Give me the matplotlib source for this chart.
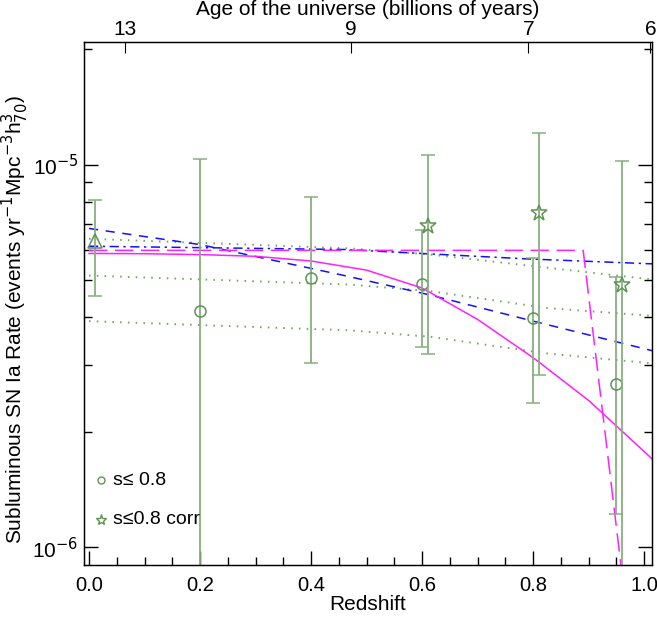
import matplotlib
matplotlib.use('Agg')
import matplotlib.pyplot as plt
from matplotlib.ticker import FixedLocator, NullFormatter

plt.rcParams['font.family'] = ['Liberation Sans', 'DejaVu Sans']

# data points (s <= 0.8)
z_s = [0.2, 0.4, 0.6, 0.8, 0.95]
rate_s = [4.15e-6, 5.07e-6, 4.89e-6, 3.97e-6, 2.67e-6]
hi_s = [1.035e-5, 8.24e-6, 6.73e-6, 5.69e-6, 5.08e-6]
lo_s = [1e-8, 3.03e-6, 3.34e-6, 2.39e-6, 1.22e-6]

# corrected points (s <= 0.8 corr)
z_c = [0.61, 0.81, 0.96]
rate_c = [6.93e-6, 7.48e-6, 4.85e-6]
hi_c = [1.06e-5, 1.21e-5, 1.02e-5]
lo_c = [3.21e-6, 2.82e-6, 1e-8]

# local point (triangle)
z_t = [0.01]
rate_t = [6.3e-6]
hi_t = [8.07e-6]
lo_t = [4.53e-6]

# fit and +-1 sigma (green dotted)
z_fit = [0.0, 0.47, 0.615, 0.825, 1.02]
fit_hi = [6.4e-6, 6.04e-6, 5.82e-6, 5.38e-6, 5.0e-6]
fit_mid = [5.13e-6, 4.86e-6, 4.67e-6, 4.22e-6, 4.02e-6]
fit_lo = [3.90e-6, 3.69e-6, 3.55e-6, 3.21e-6, 3.02e-6]

# blue models
z_b = [0.0, 0.2, 0.46, 0.61, 0.8, 1.02]
blue_dash = [6.81e-6, 6.18e-6, 5.13e-6, 4.58e-6, 3.90e-6, 3.25e-6]
z_bd = [0.0, 0.46, 0.79, 1.02]
blue_dashdot = [6.12e-6, 6.0e-6, 5.67e-6, 5.5e-6]

# magenta models
z_m = [0.0, 0.1, 0.2, 0.3, 0.4, 0.5, 0.6, 0.7, 0.8, 0.9, 1.0, 1.1]
mag_solid = [5.86e-6, 5.85e-6, 5.82e-6, 5.76e-6, 5.6e-6, 5.3e-6, 4.76e-6,
             3.94e-6, 3.13e-6, 2.42e-6, 1.78e-6, 1.3e-6]
z_md = [0.0, 0.89, 1.0]
mag_dash = [5.97e-6, 5.97e-6, 2.8e-7]

# top axis: age of universe
age_labels = ['13', '9', '7', '6']
age_z = [0.065, 0.471, 0.791, 1.011]

green = '#5f9455'
bar_green = '#86b07e'
dot_green = '#72a46a'
fs = 15

fig = plt.figure(figsize=(6.57, 6.24), dpi=100)
ax = fig.add_axes([0.1279, 0.0946, 0.8645, 0.8381])
ax.set_yscale('log')

for f in (fit_hi, fit_mid, fit_lo):
    ax.plot(z_fit, f, color=dot_green, lw=1.4, dashes=(0.8, 3.2))
ax.plot(z_b, blue_dash, color='#1010ff', lw=1.1, dashes=(6, 5))
ax.plot(z_bd, blue_dashdot, color='#1010ff', lw=1.1, dashes=(6, 3, 1.5, 3))
ax.plot(z_m, mag_solid, color='#ff20ff', lw=1.1)
ax.plot(z_md, mag_dash, color='#ff20ff', lw=1.1, dashes=(12, 5))


def draw_points(z, r, hi, lo, marker, ms):
    err = [[a - b for a, b in zip(r, lo)], [b - a for a, b in zip(r, hi)]]
    ax.errorbar(z, r, yerr=err, fmt='none', ecolor=bar_green, elinewidth=1.3,
                capsize=5, capthick=1.1)
    ax.plot(z, r, linestyle='none', marker=marker, ms=ms, mfc='none',
            mec=green, mew=1.1)


draw_points(z_s, rate_s, hi_s, lo_s, 'o', 8)
draw_points(z_c, rate_c, hi_c, lo_c, '*', 12)
draw_points(z_t, rate_t, hi_t, lo_t, '^', 10)

ax.set_xlim(-0.009, 1.014)
ax.set_ylim(9.0e-7, 2.09e-5)

ax.set_xticks([0.0, 0.2, 0.4, 0.6, 0.8, 1.0])
ax.set_xticklabels(['0.0', '0.2', '0.4', '0.6', '0.8', '1.0'])
ax.xaxis.set_minor_locator(FixedLocator([i * 0.05 for i in range(21)]))
ax.set_yticks([1e-6, 1e-5])
ax.set_yticklabels(['10$^{-6}$', '10$^{-5}$'])
ax.yaxis.set_minor_locator(FixedLocator([k * 1e-6 for k in range(2, 10)] + [2e-5]))
ax.yaxis.set_minor_formatter(NullFormatter())
ax.tick_params(which='both', direction='in', labelsize=fs, width=1.0,
               bottom=True, left=True, right=True, top=False)
ax.tick_params(axis='x', pad=8, labelsize=14.5)
ax.tick_params(axis='y', pad=4)
ax.tick_params(which='major', length=10)
ax.tick_params(which='minor', length=6)
for s in ax.spines.values():
    s.set_linewidth(1.0)

ax.set_xlabel('Redshift', fontsize=fs, labelpad=0)
ax.set_ylabel('Subluminous SN Ia Rate (events yr$^{-1}$Mpc$^{-3}$h$^{3}_{70}$)',
              fontsize=fs)
ax.yaxis.set_label_coords(-0.093, 0.47)

# top axis
ax2 = ax.twiny()
ax2.set_xlim(ax.get_xlim())
ax2.set_xticks(age_z)
ax2.set_xticklabels(age_labels)
ax2.tick_params(direction='in', length=8, labelsize=fs, pad=2)
fig.text(0.56, 0.984, 'Age of the universe (billions of years)', fontsize=fs,
         ha='center', va='center')

# legend
ax.plot([0.021], [1.5e-6], linestyle='none', marker='o', ms=5, mfc='none', mec=green, mew=1.0)
ax.text(0.043, 1.5e-6, 's\u2264 0.8', fontsize=fs - 1, va='center')
ax.plot([0.021], [1.18e-6], linestyle='none', marker='*', ms=8, mfc='none', mec=green, mew=1.0)
ax.text(0.043, 1.18e-6, 's\u22640.8 corr', fontsize=fs - 1, va='center')

fig.savefig('out.png', dpi=100)
